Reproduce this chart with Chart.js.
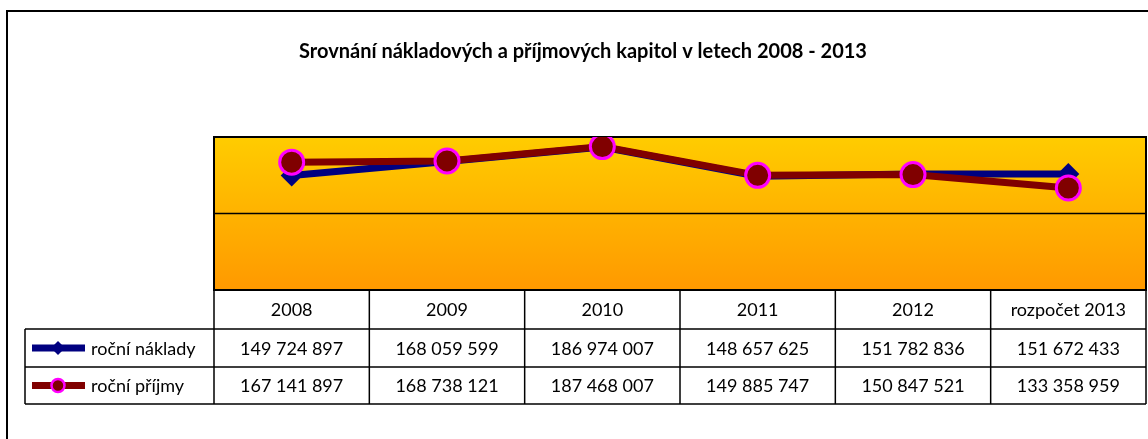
<!DOCTYPE html>
<html lang="cs">
<head>
<meta charset="UTF-8">
<title>Srovnání nákladových a příjmových kapitol</title>
<script src="https://cdn.jsdelivr.net/npm/chart.js@4"></script>
<style>
  html, body { margin: 0; padding: 0; background: #fff; overflow: hidden; }
  canvas { display: block; }
</style>
</head>
<body>
<canvas id="chart" width="1148" height="439"></canvas>
<script>
// data
const chartTitle = 'Srovnání nákladových a příjmových kapitol v letech 2008 - 2013';
const categories = ['2008', '2009', '2010', '2011', '2012', 'rozpočet 2013'];
const nakladyLabel = 'roční náklady';
const prijmyLabel = 'roční příjmy';
const naklady = [149724897, 168059599, 186974007, 148657625, 151782836, 151672433];
const prijmy = [167141897, 168738121, 187468007, 149885747, 150847521, 133358959];

const FONT = 'Lato, "Open Sans", sans-serif';

function fmt(v) {
  return String(v).replace(/\B(?=(\d{3})+(?!\d))/g, ' ');
}

// background gradient, plot frame, middle gridline, title and outer border
const plotBg = {
  id: 'plotBg',
  beforeDatasetsDraw(chart) {
    const { ctx, chartArea: a } = chart;
    ctx.save();
    const g = ctx.createLinearGradient(0, a.top, 0, a.bottom);
    g.addColorStop(0, '#ffcc00');
    g.addColorStop(1, '#ff9900');
    ctx.fillStyle = g;
    ctx.fillRect(a.left, a.top, a.right - a.left, a.bottom - a.top);
    const y = chart.scales.y;
    ctx.strokeStyle = '#000';
    ctx.lineWidth = 1.5;
    ctx.beginPath();
    ctx.moveTo(a.left, y.getPixelForValue(100000000));
    ctx.lineTo(a.right, y.getPixelForValue(100000000));
    ctx.stroke();
    ctx.lineWidth = 2;
    ctx.strokeRect(a.left, a.top, a.right - a.left, a.bottom - a.top);
    ctx.restore();
  },
  afterDraw(chart) {
    const { ctx } = chart;
    ctx.save();
    ctx.fillStyle = '#000';
    ctx.font = 'bold 20px ' + FONT;
    ctx.textAlign = 'center';
    ctx.textBaseline = 'middle';
    ctx.fillText(chartTitle, 583, 52);
    ctx.strokeStyle = '#000';
    ctx.lineWidth = 2;
    ctx.strokeRect(7, 11, 1300, 600);
    ctx.restore();
  }
};

// data table under the plot
const dataTable = {
  id: 'dataTable',
  afterDraw(chart) {
    const { ctx, chartArea: a } = chart;
    const x = chart.scales.x;
    const rowH = [39, 38, 37];
    const top = a.bottom;
    const rows = [top, top + rowH[0], top + rowH[0] + rowH[1], top + rowH[0] + rowH[1] + rowH[2]];
    const legLeft = 25;
    const half = (x.getPixelForValue(1) - x.getPixelForValue(0)) / 2;

    ctx.save();
    ctx.strokeStyle = '#000';
    ctx.lineWidth = 1.5;
    ctx.beginPath();
    ctx.moveTo(a.left, rows[0]); ctx.lineTo(a.right, rows[0]);
    for (let r = 1; r < rows.length; r++) {
      ctx.moveTo(legLeft, rows[r]); ctx.lineTo(a.right, rows[r]);
    }
    categories.forEach((c, i) => {
      const cx = x.getPixelForValue(i);
      ctx.moveTo(cx - half, rows[0]); ctx.lineTo(cx - half, rows[3]);
    });
    ctx.moveTo(a.right, rows[0]); ctx.lineTo(a.right, rows[3]);
    ctx.moveTo(legLeft, rows[1]); ctx.lineTo(legLeft, rows[3]);
    ctx.stroke();

    ctx.fillStyle = '#000';
    ctx.font = '18px ' + FONT;
    ctx.textAlign = 'center';
    ctx.textBaseline = 'middle';
    categories.forEach((c, i) => {
      const cx = x.getPixelForValue(i);
      ctx.fillText(c, cx, (rows[0] + rows[1]) / 2 + 1);
      ctx.fillText(fmt(naklady[i]), cx, (rows[1] + rows[2]) / 2 + 1);
      ctx.fillText(fmt(prijmy[i]), cx, (rows[2] + rows[3]) / 2 + 1);
    });

    // legend keys
    chart.data.datasets.forEach((ds, k) => {
      const cy = (rows[k + 1] + rows[k + 2]) / 2;
      ctx.strokeStyle = ds.borderColor;
      ctx.lineWidth = 7;
      ctx.beginPath();
      ctx.moveTo(32, cy); ctx.lineTo(85, cy);
      ctx.stroke();
      ctx.fillStyle = ds.pointBackgroundColor;
      if (ds.pointStyle === 'rectRot') {
        const r = 7;
        ctx.beginPath();
        ctx.moveTo(58, cy - r); ctx.lineTo(58 + r, cy); ctx.lineTo(58, cy + r); ctx.lineTo(58 - r, cy);
        ctx.closePath();
        ctx.fill();
      } else {
        ctx.beginPath();
        ctx.arc(58, cy, 6.5, 0, Math.PI * 2);
        ctx.fill();
        ctx.strokeStyle = ds.pointBorderColor;
        ctx.lineWidth = 2.5;
        ctx.stroke();
      }
      ctx.fillStyle = '#000';
      ctx.textAlign = 'left';
      ctx.fillText(ds.label, 91, cy + 1);
    });
    ctx.restore();
  }
};

function draw() {
  new Chart(document.getElementById('chart'), {
    type: 'line',
    data: {
      labels: categories,
      datasets: [
        {
          label: nakladyLabel,
          data: naklady,
          borderColor: '#000080',
          borderWidth: 7,
          pointStyle: 'rectRot',
          pointRadius: 11,
          pointBackgroundColor: '#000080',
          pointBorderColor: '#000080',
          pointBorderWidth: 0,
          tension: 0,
          order: 2
        },
        {
          label: prijmyLabel,
          data: prijmy,
          borderColor: '#800000',
          borderWidth: 7,
          pointStyle: 'circle',
          pointRadius: 12,
          pointBackgroundColor: '#800000',
          pointBorderColor: '#ff00ff',
          pointBorderWidth: 3,
          tension: 0,
          order: 1
        }
      ]
    },
    options: {
      responsive: false,
      animation: false,
      layout: { autoPadding: false, padding: { left: 214, right: 2, top: 137, bottom: 149 } },
      plugins: {
        legend: { display: false },
        tooltip: { enabled: false },
        title: { display: false }
      },
      scales: {
        x: { display: false, offset: true },
        y: { display: false, min: 0, max: 200000000 }
      }
    },
    plugins: [plotBg, dataTable]
  });
}

document.fonts.load('18px Lato').then(draw, draw);
</script>
</body>
</html>
